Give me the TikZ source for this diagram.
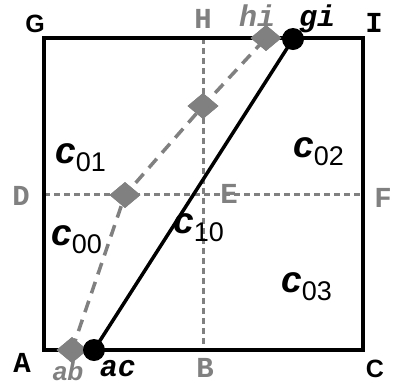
\documentclass[tikz,border=0pt]{standalone}
\usepackage{fontspec}
\usetikzlibrary{shapes.geometric}
\newfontfamily\monof{Liberation Mono}
\newfontfamily\sansf{Liberation Sans}
\newcommand\clab[1]{{\sansf\bfseries\itshape\fontsize{37}{37}\selectfont c}{\sansf\fontsize{27}{27}\selectfont\raisebox{-8pt}{#1}}}
\begin{document}
\begin{tikzpicture}[x=1pt,y=-1pt,
  lbl/.style={font=\monof\bfseries\fontsize{29}{29}\selectfont, inner sep=0, anchor=base},
  slbl/.style={font=\sansf\bfseries\fontsize{25}{25}\selectfont, inner sep=0, anchor=base},
  glbl/.style={lbl, text=gray},
  ilbl/.style={font=\monof\bfseries\itshape\fontsize{30}{30}\selectfont, inner sep=0, anchor=base},
  clbl/.style={inner sep=0, anchor=base west},
  mid/.style={draw=gray, line width=3pt, dash pattern=on 6pt off 4pt},
  sl/.style={draw=gray, line width=3.5pt, dash pattern=on 12pt off 8pt},
  dmd/.style={diamond, fill=gray, inner sep=0, minimum width=31pt, minimum height=26pt},
  dot/.style={circle, fill=black, minimum size=22pt, inner sep=0}]
\useasboundingbox (0,0) rectangle (393,384);
\coordinate (A) at (44,350);
\coordinate (B) at (203,350);
\coordinate (C) at (363,350);
\coordinate (D) at (44,194);
\coordinate (E) at (203,194);
\coordinate (F) at (363,194);
\coordinate (G) at (44,38);
\coordinate (H) at (203,38);
\coordinate (I) at (363,38);
\draw[mid] (H) -- (B);
\draw[mid] (D) -- (F);
\draw[line width=3.5pt] (G) rectangle (C);
\node[dmd] (ab) at (72,350) {};
\node[dmd] (m1) at (125,195) {};
\node[dmd] (m2) at (203,106) {};
\node[dmd] (hi) at (266,38) {};
\draw[sl] (ab.center) -- (m1.center) -- (m2.center) -- (hi.center);
\node[dmd] at (ab) {};
\node[dmd] at (m1) {};
\node[dmd] at (m2) {};
\node[dmd] at (hi) {};
\node[dot] (ac) at (94,350) {};
\node[dot] (gi) at (293,39) {};
\draw[line width=3.5pt] (ac.center) -- (gi.center);
% labels
\node[slbl] (lG) at (35,32) {G};
\node[glbl] (lH) at (203,28) {H};
\node[lbl] (lI) at (374,32) {I};
\node[glbl] (lD) at (21,205) {D};
\node[glbl] (lE) at (229,203) {E};
\node[glbl] (lF) at (383,207) {F};
\node[lbl] (lA) at (22,372) {A};
\node[glbl] (lB) at (205,377) {B};
\node[slbl] (lC) at (375,377) {C};
\node[font=\sansf\bfseries\itshape\fontsize{26}{26}\selectfont, text=gray, inner sep=0, anchor=base] (lab) at (68,380) {ab};
\node[ilbl] (lac) at (118,376) {ac};
\node[ilbl, text=gray] (lhi) at (257,26) {hi};
\node[ilbl] (lgi) at (317,26) {gi};
\node[clbl] (c01) at (55,163) {\clab{01}};
\node[clbl] (c02) at (293,157) {\clab{02}};
\node[clbl] (c00) at (51,245) {\clab{00}};
\node[clbl] (c10) at (173,233) {\clab{10}};
\node[clbl] (c03) at (281,292) {\clab{03}};
\end{tikzpicture}
\end{document}
